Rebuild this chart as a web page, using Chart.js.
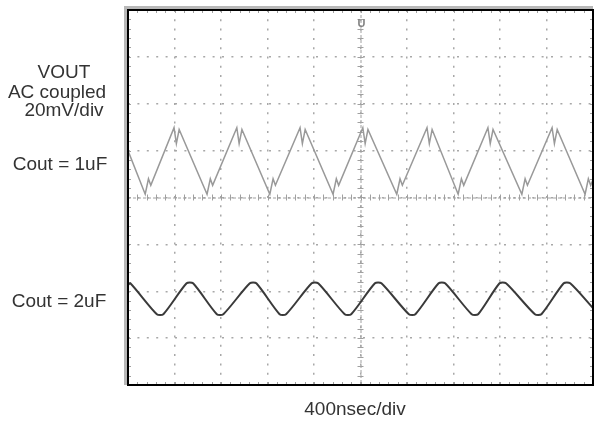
<!DOCTYPE html>
<html>
<head>
<meta charset="utf-8">
<script src="https://cdn.jsdelivr.net/npm/chart.js@4/dist/chart.umd.min.js"></script>
<style>
	body { margin: 0; background: #fff; }
	#wrap { width: 596px; height: 423px; position: relative; }
</style>
</head>
<body>
<div id="wrap"><canvas id="scope"></canvas></div>
<script>
// time axis in divisions (400nsec/div), voltage in divisions (20mV/div)
const ch1X = [0, 0.37, 0.44, 0.49, 0.99, 1.04, 1.10, 1.70, 1.77, 1.82, 2.34, 2.39, 2.45, 3.05, 3.12, 3.17,
	3.70, 3.75, 3.81, 4.41, 4.48, 4.53, 5.05, 5.10, 5.16, 5.78, 5.85, 5.90, 6.43, 6.48, 6.54, 7.10, 7.17, 7.22,
	7.74, 7.79, 7.85, 8.47, 8.54, 8.59, 9.12, 9.17, 9.23, 9.83, 9.90, 9.95, 10]
const ch1Y = [1.00, 0.07, 0.40, 0.26, 1.49, 1.15, 1.45, 0.07, 0.40, 0.26, 1.49, 1.15, 1.45, 0.07, 0.40, 0.26,
	1.49, 1.15, 1.45, 0.07, 0.40, 0.26, 1.49, 1.15, 1.45, 0.07, 0.40, 0.26, 1.49, 1.15, 1.45, 0.07, 0.40, 0.26,
	1.49, 1.15, 1.45, 0.07, 0.40, 0.26, 1.49, 1.15, 1.45, 0.07, 0.40, 0.26, 0.38]

const ch2X = [0, 0.05, 0.62, 0.76, 1.26, 1.40, 1.91, 2.05, 2.62, 2.76, 3.26, 3.40, 3.95, 4.09, 4.66, 4.80,
	5.31, 5.45, 6.04, 6.18, 6.68, 6.82, 7.39, 7.53, 7.99, 8.13, 8.75, 8.89, 9.37, 9.51, 10]
const ch2Y = [-1.87, -1.83, -2.49, -2.49, -1.83, -1.83, -2.49, -2.49, -1.83, -1.83, -2.49, -2.49, -1.83, -1.83,
	-2.49, -2.49, -1.83, -1.83, -2.49, -2.49, -1.83, -1.83, -2.49, -2.49, -1.83, -1.83, -2.49, -2.49, -1.83, -1.83, -2.36]

const sideLabels = [
	{ text: 'VOUT', x: 64, y: 78 },
	{ text: 'AC coupled', x: 57, y: 98 },
	{ text: '20mV/div', x: 64, y: 116 },
	{ text: 'Cout = 1uF', x: 60, y: 170 },
	{ text: 'Cout = 2uF', x: 59, y: 307 },
]
const timeLabel = '400nsec/div'

const toPoints = (xs, ys) => xs.map((x, i) => ({ x: x, y: ys[i] }))

const scopeDecor = {
	id: 'scopeDecor',
	beforeDatasetsDraw(chart) {
		const { ctx, chartArea: a, scales } = chart
		const sx = scales.x
		const sy = scales.y
		ctx.save()
		// centre axes with minor ticks
		const cx = sx.getPixelForValue(5)
		const cy = sy.getPixelForValue(0)
		ctx.strokeStyle = '#a0a0a0'
		ctx.lineWidth = 1
		ctx.setLineDash([3, 2])
		ctx.beginPath()
		ctx.moveTo(a.left, cy + 0.5)
		ctx.lineTo(a.right, cy + 0.5)
		ctx.moveTo(cx + 0.5, a.top)
		ctx.lineTo(cx + 0.5, a.bottom)
		ctx.stroke()
		ctx.setLineDash([])
		ctx.beginPath()
		for (let v = 0; v <= 10.001; v += 0.2) {
			const px = Math.round(sx.getPixelForValue(v)) + 0.5
			ctx.moveTo(px, cy - 3)
			ctx.lineTo(px, cy + 3)
			ctx.moveTo(px, a.top)
			ctx.lineTo(px, a.top + 3)
			ctx.moveTo(px, a.bottom)
			ctx.lineTo(px, a.bottom - 3)
		}
		for (let v = -4; v <= 4.001; v += 0.2) {
			const py = Math.round(sy.getPixelForValue(v)) + 0.5
			ctx.moveTo(cx - 3, py)
			ctx.lineTo(cx + 3, py)
			ctx.moveTo(a.left, py)
			ctx.lineTo(a.left + 3, py)
			ctx.moveTo(a.right, py)
			ctx.lineTo(a.right - 3, py)
		}
		ctx.stroke()
		ctx.restore()
	},
	afterDraw(chart) {
		const { ctx, chartArea: a } = chart
		ctx.save()
		// frame
		ctx.strokeStyle = '#b8b8b8'
		ctx.lineWidth = 3
		ctx.beginPath()
		ctx.moveTo(a.left - 2.5, a.bottom)
		ctx.lineTo(a.left - 2.5, a.top - 2.5)
		ctx.lineTo(a.right, a.top - 2.5)
		ctx.stroke()
		ctx.strokeStyle = '#000'
		ctx.lineWidth = 2
		ctx.strokeRect(a.left, a.top, a.right - a.left, a.bottom - a.top)
		// trigger marker
		ctx.fillStyle = '#808080'
		ctx.font = 'bold 11px "Liberation Sans", Arial, sans-serif'
		ctx.textAlign = 'center'
		ctx.fillText('U', chart.scales.x.getPixelForValue(5) + 1, 27)
		// labels
		ctx.fillStyle = '#333'
		ctx.font = '19px "Liberation Sans", Arial, sans-serif'
		sideLabels.forEach(l => ctx.fillText(l.text, l.x, l.y))
		ctx.fillText(timeLabel, 355, 415)
		ctx.restore()
	},
}

function drawScope() {
	const canvas = document.getElementById('scope')
	new Chart(canvas, {
		type: 'scatter',
		data: {
			datasets: [
				{
					label: 'Cout = 1uF',
					data: toPoints(ch1X, ch1Y),
					showLine: true,
					borderColor: '#999999',
					borderWidth: 1.5,
					pointRadius: 0,
					tension: 0,
				},
				{
					label: 'Cout = 2uF',
					data: toPoints(ch2X, ch2Y),
					showLine: true,
					borderColor: '#3a3a3a',
					borderWidth: 2,
					pointRadius: 0,
					tension: 0.25,
				},
			],
		},
		options: {
			responsive: true,
			maintainAspectRatio: false,
			animation: false,
			layout: { padding: { left: 128, top: 10, right: 3, bottom: 38 } },
			plugins: {
				legend: { display: false },
				tooltip: { enabled: false },
			},
			scales: {
				x: {
					min: 0,
					max: 10,
					ticks: { display: false, stepSize: 1 },
					grid: { color: '#a8a8a8', lineWidth: 1.5, drawTicks: false },
					border: { display: false, dash: [2, 7.3] },
				},
				y: {
					min: -4,
					max: 4,
					ticks: { display: false, stepSize: 1 },
					grid: { color: '#a8a8a8', lineWidth: 1.5, drawTicks: false },
					border: { display: false, dash: [2, 7.4] },
				},
			},
		},
		plugins: [scopeDecor],
	})
}
drawScope()
</script>
</body>
</html>
